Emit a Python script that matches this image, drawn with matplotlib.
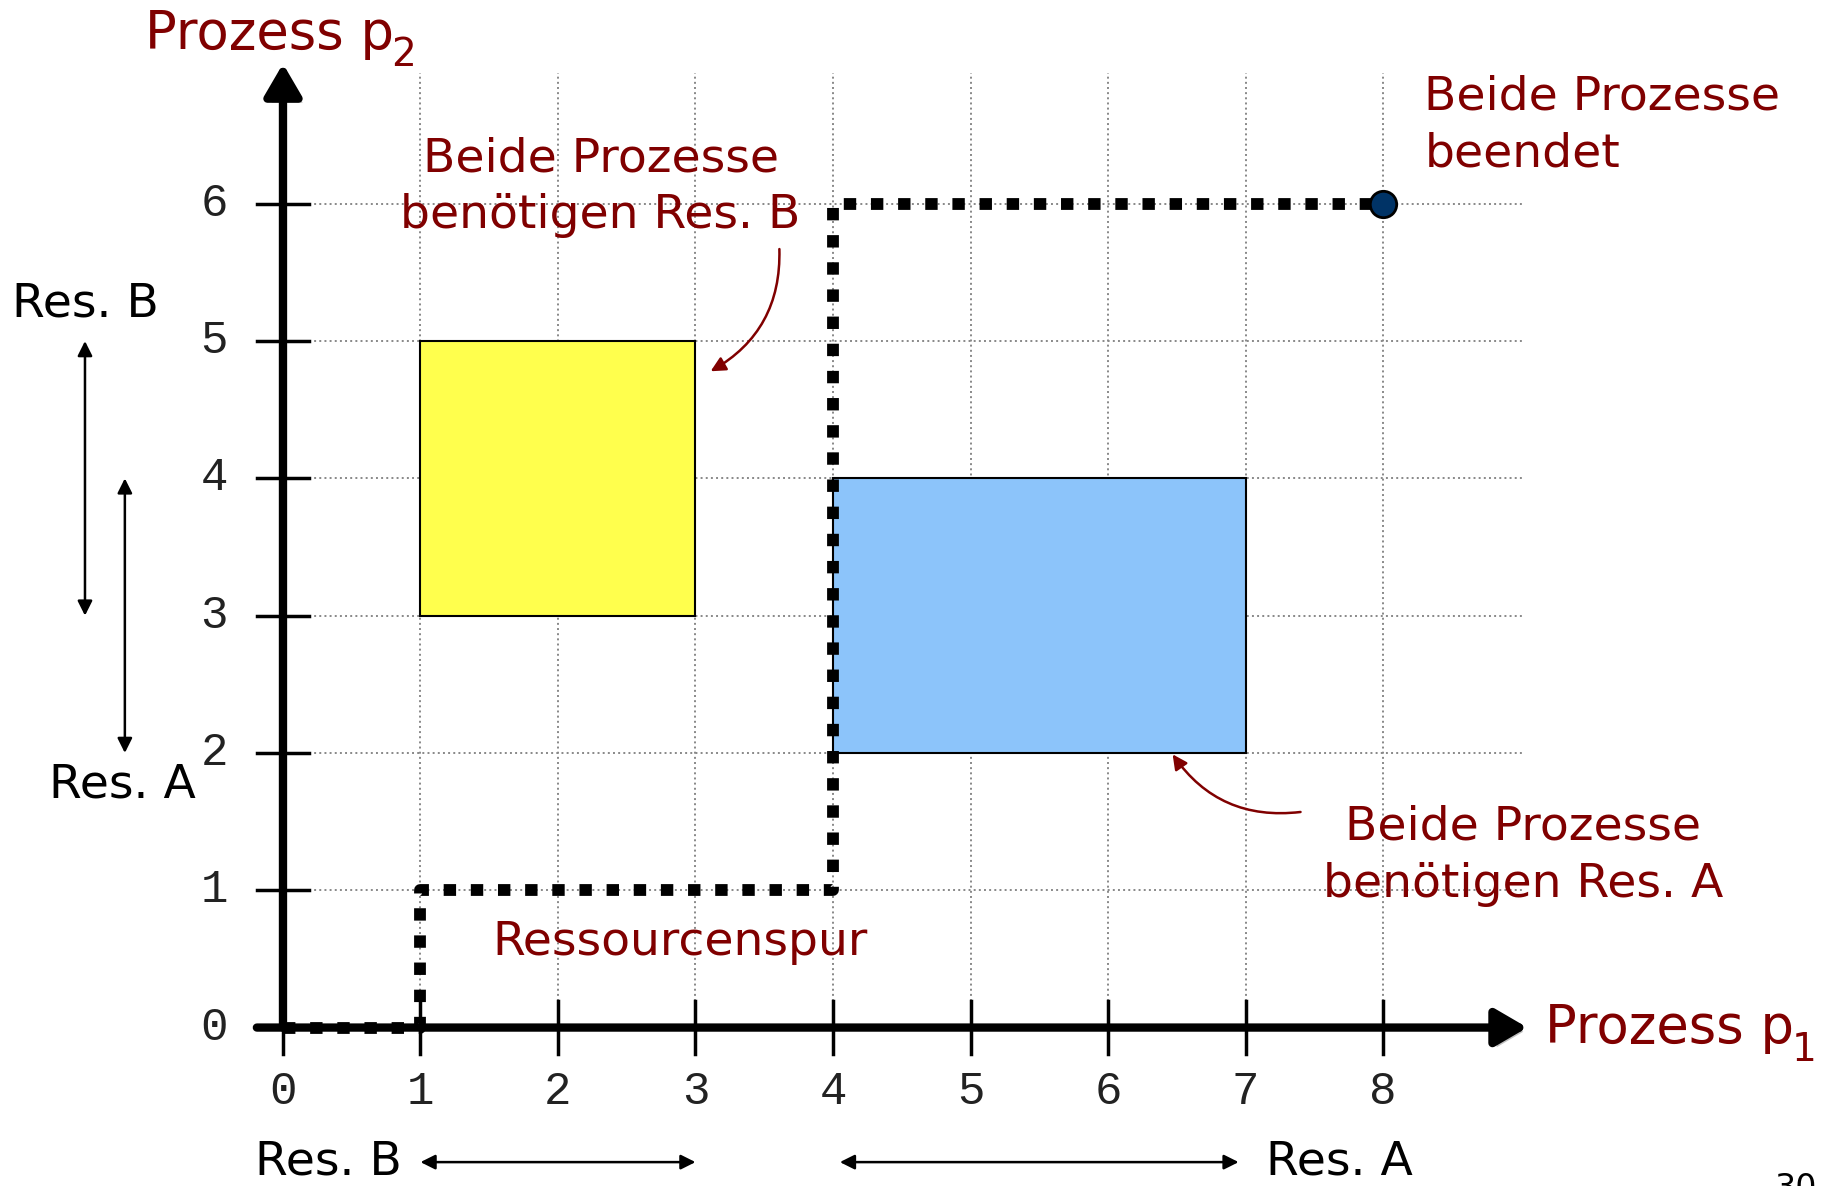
import matplotlib
matplotlib.use('Agg')
import matplotlib.pyplot as plt
import matplotlib.patheffects as pe
from matplotlib.patches import Rectangle, FancyArrowPatch

# ticks on both axes
x_ticks = [0, 1, 2, 3, 4, 5, 6, 7, 8]
y_ticks = [0, 1, 2, 3, 4, 5, 6]

# resource trace (Ressourcenspur)
trace_x = [0, 1, 1, 4, 4, 8]
trace_y = [0, 0, 1, 1, 6, 6]
end_x, end_y = 8, 6

# forbidden regions: (x0, y0, width, height)
box_b = (1, 3, 2, 2)
box_a = (4, 2, 3, 2)

# resource usage intervals
res_b_p1 = (1, 3)
res_a_p1 = (4.05, 6.95)
res_b_p2 = (5, 3)
res_a_p2 = (4, 2)

red = '#800000'
plt.rcParams['font.family'] = ['DejaVu Sans']

fig = plt.figure(figsize=(18.35, 11.86), dpi=100)
ax = fig.add_axes([0, 0, 1, 1])
ax.set_xlim(-2.058, 11.287)
ax.set_ylim(-1.154, 7.484)
ax.axis('off')

# grid
for xv in x_ticks[1:]:
    ax.plot([xv, xv], [0.19, 6.95], color='#888888', ls=':', lw=1.4, zorder=1)
for yv in y_ticks[1:]:
    ax.plot([0.19, 9.03], [yv, yv], color='#888888', ls=':', lw=1.4, zorder=1)

# boxes
ax.add_patch(Rectangle(box_b[:2], box_b[2], box_b[3], facecolor='#FFFF4D',
                       edgecolor='black', lw=1.5, zorder=2))
ax.add_patch(Rectangle(box_a[:2], box_a[2], box_a[3], facecolor='#8CC4FA',
                       edgecolor='black', lw=1.5, zorder=2))

# axes with arrows and shadow
shadow = [pe.SimplePatchShadow(offset=(3, -3), alpha=0.25), pe.Normal()]
ax.add_patch(FancyArrowPatch((-0.19, 0), (9.05, 0), arrowstyle='-|>,head_length=0.6,head_width=0.35',
                             mutation_scale=32, lw=6, color='black', shrinkA=0, shrinkB=0,
                             zorder=4, path_effects=shadow))
ax.add_patch(FancyArrowPatch((0, 0), (0, 7.02), arrowstyle='-|>,head_length=0.6,head_width=0.35',
                             mutation_scale=32, lw=6, color='black', shrinkA=0, shrinkB=0,
                             zorder=4, path_effects=shadow))

# tick marks and labels
for xv in x_ticks:
    ax.plot([xv, xv], [-0.19, 0.19], color='black', lw=2.5, zorder=4)
    ax.text(xv, -0.47, str(xv), ha='center', va='center', fontsize=33,
            family='Liberation Mono', color='#222222')
for yv in y_ticks:
    ax.plot([-0.19, 0.19], [yv, yv], color='black', lw=2.5, zorder=4)
    ax.text(-0.5, yv, str(yv), ha='center', va='center', fontsize=33,
            family='Liberation Mono', color='#222222')

# trace
ax.plot(trace_x, trace_y, color='black', lw=8.5, dashes=(1.05, 1.25),
        dash_capstyle='butt', zorder=5)
ax.plot(end_x, end_y, 'o', ms=19, mfc='#003366', mec='black', mew=2, zorder=6)

# axis titles
ax.text(-1.0, 7.24, 'Prozess p', fontsize=38, color=red, va='center', ha='left')
ax.text(0.79, 7.08, '2', fontsize=28, color=red, va='center', ha='left')
ax.text(9.18, 0.0, 'Prozess p', fontsize=38, color=red, va='center', ha='left')
ax.text(10.97, -0.16, '1', fontsize=28, color=red, va='center', ha='left')

# annotations
ax.text(2.31, 6.12, 'Beide Prozesse\nbenötigen Res. B', fontsize=34, color=red,
        ha='center', va='center', linespacing=1.35)
ax.annotate('', xy=(3.11, 4.78), xytext=(3.61, 5.67),
            arrowprops=dict(arrowstyle='-|>', color=red, lw=1.8, mutation_scale=22,
                            connectionstyle='arc3,rad=-0.3', shrinkA=0, shrinkB=0))
ax.text(8.3, 6.57, 'Beide Prozesse\nbeendet', fontsize=34, color=red,
        ha='left', va='center', linespacing=1.35)
ax.text(9.02, 1.25, 'Beide Prozesse\nbenötigen Res. A', fontsize=34, color=red,
        ha='center', va='center', linespacing=1.35)
ax.annotate('', xy=(6.47, 1.99), xytext=(7.40, 1.57),
            arrowprops=dict(arrowstyle='-|>', color=red, lw=1.8, mutation_scale=22,
                            connectionstyle='arc3,rad=-0.3', shrinkA=0, shrinkB=0))
ax.text(2.89, 0.62, 'Ressourcenspur', fontsize=34, color=red, ha='center', va='center')

# resource intervals on the left
ax.text(-1.97, 5.27, 'Res. B', fontsize=34, color='black', ha='left', va='center')
ax.text(-1.70, 1.77, 'Res. A', fontsize=34, color='black', ha='left', va='center')
arr = dict(arrowstyle='<|-|>', color='black', lw=1.8, mutation_scale=22, shrinkA=0, shrinkB=0)
ax.annotate('', xy=(-1.44, res_b_p2[1]), xytext=(-1.44, res_b_p2[0]), arrowprops=arr)
ax.annotate('', xy=(-1.15, res_a_p2[1]), xytext=(-1.15, res_a_p2[0]), arrowprops=arr)

# resource intervals at the bottom
ax.text(-0.2, -0.98, 'Res. B', fontsize=34, color='black', ha='left', va='center')
ax.text(7.15, -0.98, 'Res. A', fontsize=34, color='black', ha='left', va='center')
ax.annotate('', xy=(res_b_p1[1], -0.98), xytext=(res_b_p1[0], -0.98), arrowprops=arr)
ax.annotate('', xy=(res_a_p1[1], -0.98), xytext=(res_a_p1[0], -0.98), arrowprops=arr)

# page number (cut off at bottom, as on the slide)
ax.text(11.0, -1.05, '30', fontsize=24, color='black', ha='center', va='top')

fig.savefig('out.png', dpi=100)
